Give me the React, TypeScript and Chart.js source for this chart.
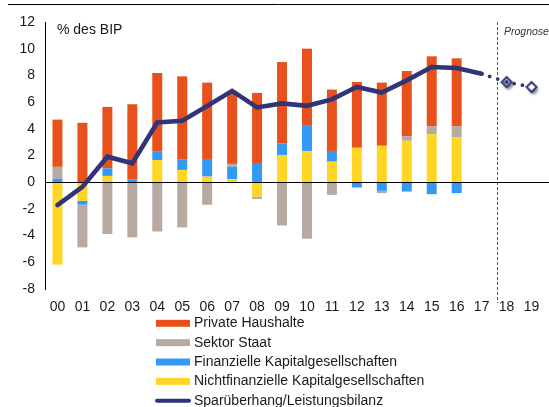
import React, { useEffect, useRef } from "react";
import { Chart, registerables } from "chart.js";
Chart.register(...registerables);

const years = ["00","01","02","03","04","05","06","07","08","09","10","11","12","13","14","15","16","17","18","19"];
const yMin = -8;
const yMax = 12;
const yStep = 2;

const privateHaushalte = [3.54, 4.45, 4.6, 5.62, 5.9, 6.21, 5.72, 5.43, 5.32, 6.09, 5.72, 4.6, 4.93, 4.73, 4.88, 5.23, 5.08, null, null, null];
const sektorStaat = [0.9, -3.2, -3.88, -4.13, -3.69, -3.39, -1.69, 0.21, -0.18, -3.24, -4.23, -0.95, 0, -0.17, 0.35, 0.62, 0.82, null, null, null];
const finanzielle = [0.25, -0.28, 0.57, 0.22, 0.62, 0.8, 1.32, 0.94, 1.37, 0.87, 1.94, 0.8, -0.4, -0.65, -0.7, -0.9, -0.82, null, null, null];
const nichtfinanzielle = [-6.17, -1.4, 0.47, 0, 1.66, 0.92, 0.42, 0.22, -1.07, 2.04, 2.34, 1.54, 2.58, 2.73, 3.1, 3.58, 3.38, null, null, null];
const sparueberhang = [-1.72, -0.35, 1.91, 1.42, 4.48, 4.6, 5.7, 6.84, 5.6, 5.9, 5.72, 6.2, 7.13, 6.72, 7.63, 8.63, 8.55, 8.13, null, null];
const prognose = [null, null, null, null, null, null, null, null, null, null, null, null, null, null, null, null, null, 8.13, 7.5, 7.13];

const labels = {
  hh: "Private Haushalte",
  staat: "Sektor Staat",
  fin: "Finanzielle Kapitalgesellschaften",
  nfin: "Nichtfinanzielle Kapitalgesellschaften",
  line: "Sparüberhang/Leistungsbilanz",
  unit: "% des BIP",
  prog: "Prognose",
};

const C_ORANGE = "#E8511B";
const C_GRAY = "#B8A9A1";
const C_BLUE = "#3399F7";
const C_YELLOW = "#FFD624";
const C_NAVY = "#2F3576";
const FONT = "'Liberation Sans', Arial, sans-serif";

function makeDiamond(filled: boolean): HTMLCanvasElement {
  const c = document.createElement("canvas");
  c.width = 24;
  c.height = 24;
  const g = c.getContext("2d")!;
  const cx = 12, cy = 12, r = 5;
  const path = (rr: number) => {
    g.beginPath();
    g.moveTo(cx, cy - rr);
    g.lineTo(cx + rr, cy);
    g.lineTo(cx, cy + rr);
    g.lineTo(cx - rr, cy);
    g.closePath();
  };
  g.save();
  g.shadowColor = "rgba(0,0,0,0.5)";
  g.shadowBlur = 3;
  g.shadowOffsetX = 2;
  g.shadowOffsetY = 3;
  path(r);
  g.fillStyle = "#ffffff";
  g.fill();
  g.restore();
  path(r);
  g.lineWidth = 2;
  g.strokeStyle = C_NAVY;
  g.stroke();
  if (filled) {
    path(2.8);
    g.fillStyle = C_NAVY;
    g.fill();
  }
  return c;
}

const decoPlugin = {
  id: "deco",
  beforeDatasetsDraw(chart: any) {
    const ctx = chart.ctx;
    const xs = chart.scales.x;
    const ca = chart.chartArea;
    const px = Math.round((xs.getPixelForValue(17) + xs.getPixelForValue(18)) / 2 + 2.5) + 0.5;
    ctx.save();
    ctx.setLineDash([3, 2]);
    ctx.strokeStyle = "#4B5389";
    ctx.lineWidth = 1;
    ctx.beginPath();
    ctx.moveTo(px, ca.top);
    ctx.lineTo(px, ca.bottom + 14);
    ctx.stroke();
    ctx.restore();
  },
  afterDatasetDraw(chart: any, args: any) {
    if (args.index !== 0) return;
    const ctx = chart.ctx;
    const ys = chart.scales.y;
    const ca = chart.chartArea;
    const y0 = Math.round(ys.getPixelForValue(0)) + 0.5;
    ctx.save();
    ctx.strokeStyle = "#000000";
    ctx.lineWidth = 1;
    ctx.beginPath();
    ctx.moveTo(ca.left, y0);
    ctx.lineTo(chart.width, y0);
    ctx.stroke();
    ctx.restore();
  },
  afterDraw(chart: any) {
    const ctx = chart.ctx;
    const ca = chart.chartArea;
    ctx.save();
    ctx.strokeStyle = "#000000";
    ctx.lineWidth = 1;
    ctx.beginPath();
    ctx.moveTo(8, 4.5);
    ctx.lineTo(chart.width, 4.5);
    ctx.stroke();
    ctx.fillStyle = "#1a1a1a";
    ctx.font = `14px ${FONT}`;
    ctx.textBaseline = "middle";
    ctx.textAlign = "left";
    ctx.fillText(labels.unit, ca.left + 12, 30);
    ctx.font = `italic 10.5px ${FONT}`;
    ctx.fillStyle = "#333333";
    ctx.fillText(labels.prog, 504, 32);
    const order = [3, 2, 1, 0, 4];
    ctx.font = `14px ${FONT}`;
    order.forEach((di, i) => {
      const ds = chart.data.datasets[di];
      const y = 323.3 + i * 19.35;
      if (ds.type === "line") {
        ctx.strokeStyle = ds.borderColor;
        ctx.lineWidth = 4;
        ctx.lineCap = "round";
        ctx.beginPath();
        ctx.moveTo(157, y);
        ctx.lineTo(189, y);
        ctx.stroke();
      } else {
        ctx.fillStyle = ds.backgroundColor;
        ctx.fillRect(156, y - 3.5, 34, 7);
      }
      ctx.fillStyle = "#1a1a1a";
      ctx.fillText(ds.label, 194, y);
    });
    ctx.restore();
  },
};

export default function App() {
  const ref = useRef<HTMLCanvasElement>(null);
  useEffect(() => {
    if (!ref.current) return;
    const d18 = makeDiamond(true);
    const d19 = makeDiamond(false);
    const progStyles = years.map((_, i) => (i === 18 ? d18 : i === 19 ? d19 : "circle"));
    const progRadius = years.map((_, i) => (i >= 18 ? 5 : 0));
    const barCommon = { type: "bar", order: 1, barPercentage: 0.4, categoryPercentage: 1, borderWidth: 0 };
    const chart = new Chart(ref.current, {
      data: {
        labels: years,
        datasets: [
          { ...barCommon, label: labels.nfin, data: nichtfinanzielle, backgroundColor: C_YELLOW },
          { ...barCommon, label: labels.fin, data: finanzielle, backgroundColor: C_BLUE },
          { ...barCommon, label: labels.staat, data: sektorStaat, backgroundColor: C_GRAY },
          { ...barCommon, label: labels.hh, data: privateHaushalte, backgroundColor: C_ORANGE },
          {
            type: "line", order: 0, stack: "l1", label: labels.line, data: sparueberhang,
            borderColor: C_NAVY, backgroundColor: C_NAVY, borderWidth: 4.6, pointRadius: 0,
            borderCapStyle: "round", tension: 0, fill: false,
          },
          {
            type: "line", order: 0, stack: "l2", label: labels.prog, data: prognose,
            borderColor: C_NAVY, backgroundColor: C_NAVY, borderWidth: 3.8, borderDash: [0, 8.5],
            borderCapStyle: "round", pointStyle: progStyles, pointRadius: progRadius, tension: 0, fill: false,
          },
        ],
      } as any,
      options: {
        animation: false,
        responsive: false,
        devicePixelRatio: 1,
        layout: { autoPadding: false, padding: { left: 0, right: 5, top: 22, bottom: 88 } },
        plugins: { legend: { display: false }, tooltip: { enabled: false }, title: { display: false } },
        scales: {
          x: {
            stacked: true,
            grid: { display: false, drawTicks: true, tickLength: 8 },
            border: { display: false },
            ticks: { font: { family: FONT, size: 14 }, color: "#1a1a1a", padding: 2, maxRotation: 0, autoSkip: false },
            afterFit: (s: any) => { s.height = 30; s.paddingLeft = 0; s.paddingRight = 0; },
          },
          y: {
            stacked: true,
            min: yMin,
            max: yMax,
            grid: { display: false, drawTicks: false },
            border: { display: true, color: "#000000", width: 1 },
            ticks: { stepSize: yStep, font: { family: FONT, size: 14 }, color: "#1a1a1a", padding: 10 },
            afterFit: (s: any) => { s.width = 45; },
          },
        },
      } as any,
      plugins: [decoPlugin],
    });
    return () => chart.destroy();
  }, []);
  return (
    <div style={{ position: "absolute", left: 0, top: 0, width: 549, height: 407, background: "#fff" }}>
      <canvas ref={ref} width={549} height={407} style={{ width: 549, height: 407, display: "block" }} />
    </div>
  );
}
